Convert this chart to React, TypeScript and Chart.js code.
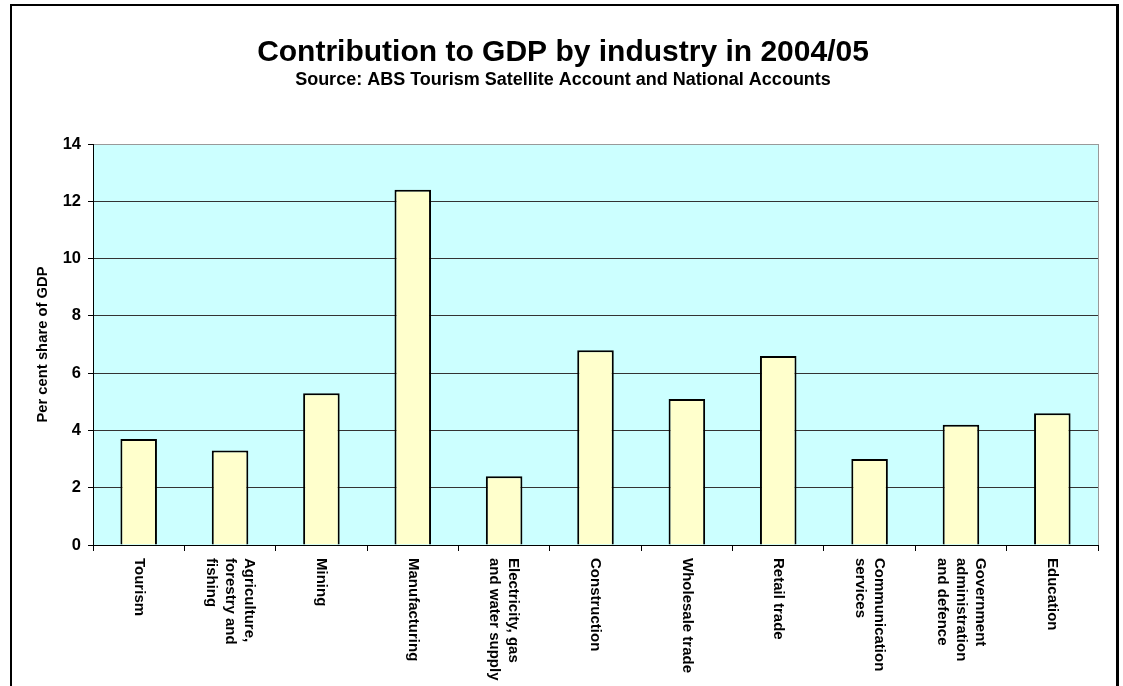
import React, { useEffect, useRef } from "react";
import { Chart, registerables } from "chart.js";

Chart.register(...registerables);

const categories: string[][] = [
  ["Tourism"],
  ["Agriculture,", "forestry and", "fishing"],
  ["Mining"],
  ["Manufacturing"],
  ["Electricity, gas", "and water supply"],
  ["Construction"],
  ["Wholesale trade"],
  ["Retail trade"],
  ["Communication", "services"],
  ["Government", "administration", "and defence"],
  ["Education"],
];
const shareOfGdp: number[] = [3.7, 3.3, 5.3, 12.4, 2.4, 6.8, 5.1, 6.6, 3.0, 4.2, 4.6];

const titleText = "Contribution to GDP by industry in 2004/05";
const subtitleText = "Source: ABS Tourism Satellite Account and National Accounts";
const yTitleText = "Per cent share of GDP";

const FONT = "'Liberation Sans', Arial, Helvetica, sans-serif";

const decorPlugin = {
  id: "decor",
  beforeDraw(chart: any) {
    const { ctx, chartArea } = chart;
    ctx.save();
    ctx.fillStyle = "#ffffff";
    ctx.fillRect(0, 0, chart.width, chart.height);
    ctx.fillStyle = "#CCFFFF";
    ctx.fillRect(chartArea.left, chartArea.top, chartArea.right - chartArea.left, chartArea.bottom - chartArea.top);
    ctx.restore();
  },
  afterDraw(chart: any) {
    const { ctx, chartArea } = chart;
    ctx.save();
    // plot area right border
    ctx.strokeStyle = "#999999";
    ctx.lineWidth = 1;
    ctx.beginPath();
    ctx.moveTo(chartArea.right + 0.5, chartArea.top);
    ctx.lineTo(chartArea.right + 0.5, chartArea.bottom);
    ctx.stroke();
    // outer frame
    ctx.fillStyle = "#000000";
    ctx.fillRect(10, 4, 2, chart.height - 4);
    ctx.fillRect(10, 4, 1109, 2);
    ctx.fillRect(1116, 4, 3, chart.height - 4);
    // titles
    ctx.textAlign = "center";
    ctx.textBaseline = "alphabetic";
    ctx.font = `bold 30px ${FONT}`;
    ctx.fillText(titleText, 563, 61);
    ctx.font = `bold 18px ${FONT}`;
    ctx.fillText(subtitleText, 563, 85);
    // y axis title
    ctx.save();
    ctx.translate(43, (chartArea.top + chartArea.bottom) / 2);
    ctx.rotate(-Math.PI / 2);
    ctx.font = `bold 14.8px ${FONT}`;
    ctx.textBaseline = "middle";
    ctx.fillText(yTitleText, 0, 0);
    ctx.restore();
    // x labels, rotated clockwise
    const xs = chart.scales.x;
    ctx.font = `bold 15px ${FONT}`;
    ctx.textAlign = "left";
    ctx.textBaseline = "middle";
    const lh = 19;
    categories.forEach((lines, i) => {
      const x = xs.getPixelForValue(i);
      ctx.save();
      ctx.translate(x, chartArea.bottom + 13);
      ctx.rotate(Math.PI / 2);
      const n = lines.length;
      lines.forEach((line, k) => {
        ctx.fillText(line, 0, (k - (n - 1) / 2) * lh);
      });
      ctx.restore();
    });
    ctx.restore();
  },
};

export default function App() {
  const ref = useRef<HTMLCanvasElement | null>(null);
  useEffect(() => {
    if (!ref.current) return;
    const chart = new Chart(ref.current, {
      type: "bar",
      data: {
        labels: categories.map((c) => c.join(" ")),
        datasets: [
          {
            data: shareOfGdp,
            backgroundColor: "#FFFFCC",
            borderColor: "#000000",
            borderWidth: 2,
            barPercentage: 0.8,
            categoryPercentage: 0.5,
          },
        ],
      },
      options: {
        animation: false,
        responsive: false,
        maintainAspectRatio: false,
        layout: { padding: { left: 0, top: 144, right: 25, bottom: 0 } },
        plugins: {
          legend: { display: false },
          title: { display: false },
          tooltip: { enabled: false },
        },
        scales: {
          x: {
            afterFit: (s: any) => {
              s.height = 141;
            },
            grid: {
              offset: true,
              drawOnChartArea: false,
              drawTicks: true,
              tickLength: 6,
              color: "#000000",
            },
            border: { display: true, color: "#000000", width: 1 },
            ticks: { display: false },
          },
          y: {
            min: 0,
            max: 14,
            afterFit: (s: any) => {
              s.width = 93;
            },
            grid: {
              color: (c: any) => (c.tick && c.tick.value === 14 ? "#999999" : "#333333"),
              tickColor: "#000000",
              tickLength: 5,
              lineWidth: 1,
            },
            border: { display: true, color: "#000000", width: 1 },
            ticks: {
              stepSize: 2,
              color: "#000000",
              padding: 7,
              font: { family: FONT, size: 16.5, weight: "bold" },
            },
          },
        },
      },
      plugins: [decorPlugin],
    });
    return () => chart.destroy();
  }, []);
  return (
    <div style={{ position: "fixed", left: 0, top: 0, width: 1123, height: 686, background: "#fff" }}>
      <canvas ref={ref} width={1123} height={686} style={{ display: "block", width: 1123, height: 686 }} />
    </div>
  );
}
